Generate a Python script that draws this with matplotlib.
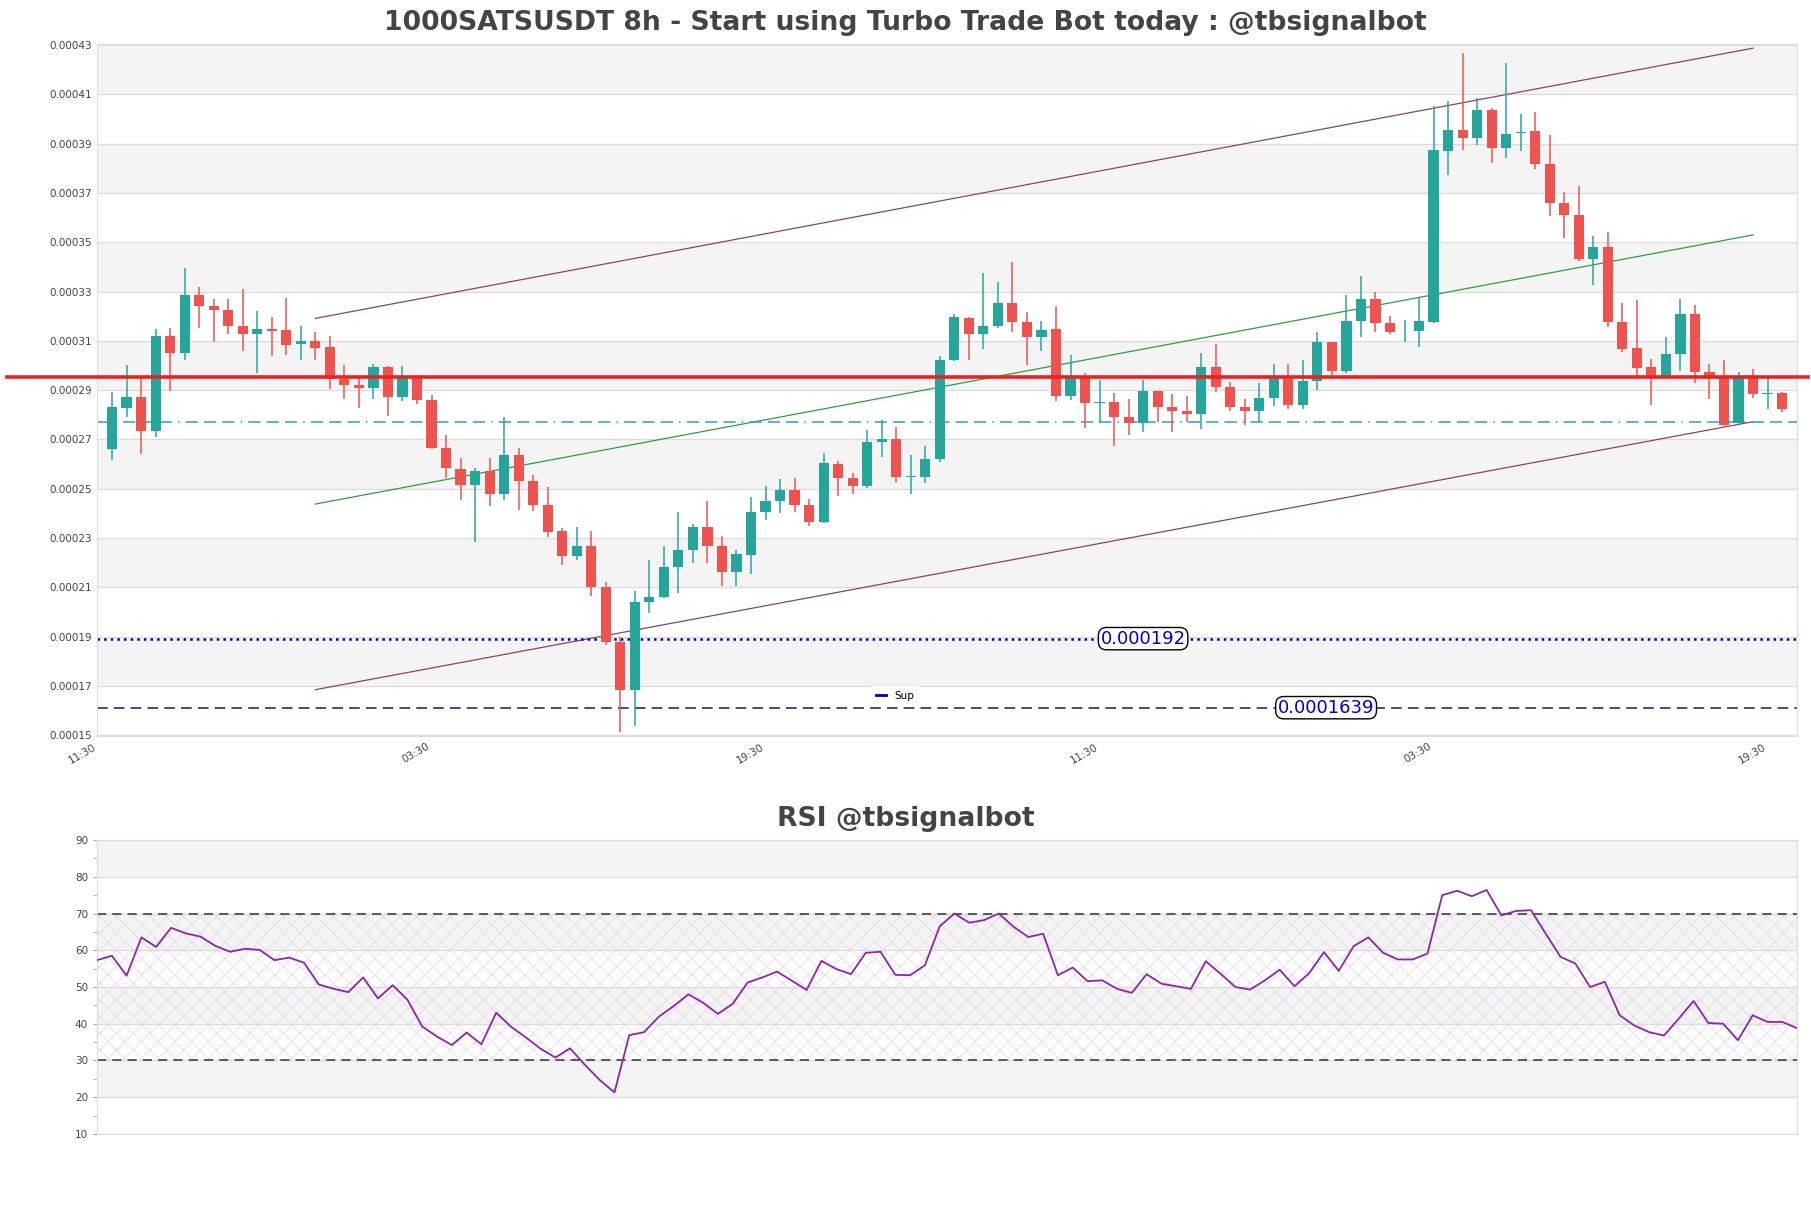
import numpy as np
import matplotlib
matplotlib.use("Agg")
import matplotlib.pyplot as plt
from matplotlib.lines import Line2D

# OHLC values in units of 1e-5 USDT, 8h candles
opens = [26.63, 28.28, 28.72, 27.34, 31.18, 30.51, 32.86, 32.43, 32.23, 31.61,
         31.26, 31.46, 31.42, 30.87, 31.00, 30.74, 29.47, 29.20, 29.10, 29.93,
         28.74, 29.49, 28.59, 26.67, 25.82, 25.14, 25.70, 24.77, 26.37, 25.33,
         24.36, 23.28, 22.27, 22.68, 21.01, 18.77, 16.85, 20.39, 20.61, 21.81,
         22.50, 23.43, 22.68, 21.62, 22.32, 24.04, 24.49, 24.96, 24.33, 23.65,
         26.02, 25.44, 25.11, 26.88, 27.00, 25.48, 25.48, 26.22, 30.23, 31.93,
         31.26, 31.61, 32.54, 31.76, 31.16, 31.47, 28.78, 29.52, 28.46, 28.52,
         27.90, 27.66, 28.96, 28.33, 28.14, 28.05, 29.95, 29.11, 28.33, 28.14,
         28.68, 29.49, 28.41, 29.36, 30.94, 29.77, 31.80, 32.69, 31.72, 31.38,
         31.38, 31.78, 38.71, 39.55, 39.23, 40.35, 38.84, 39.43, 39.52, 38.19,
         36.57, 36.10, 34.33, 34.80, 31.76, 30.70, 29.92, 29.55, 30.46, 32.08,
         29.73, 29.58, 27.68, 29.55, 28.84, 28.88]
highs = [28.93, 30.01, 29.54, 31.48, 31.52, 33.96, 33.18, 32.70, 32.70, 33.12,
         32.21, 31.97, 32.73, 31.59, 31.35, 31.18, 30.01, 29.49, 30.05, 29.97,
         29.97, 29.49, 28.80, 27.20, 26.23, 25.85, 26.26, 27.90, 26.65, 25.57,
         25.07, 23.40, 23.43, 23.30, 21.20, 19.00, 20.87, 22.12, 22.68, 24.04,
         23.56, 24.49, 23.10, 22.53, 24.68, 25.11, 25.39, 25.43, 24.60, 26.47,
         26.13, 25.63, 27.38, 27.77, 27.49, 26.37, 26.72, 30.38, 32.07, 31.97,
         33.74, 33.40, 34.18, 32.15, 31.82, 32.41, 30.42, 29.71, 29.40, 28.87,
         28.66, 29.42, 28.96, 28.83, 28.76, 30.51, 30.88, 29.34, 28.65, 29.30,
         30.05, 30.05, 30.23, 31.35, 30.94, 32.84, 33.62, 33.00, 32.00, 31.85,
         32.75, 40.54, 40.73, 42.68, 40.86, 40.44, 42.25, 40.21, 40.27, 39.36,
         37.03, 37.28, 35.27, 35.40, 32.52, 32.66, 30.27, 31.17, 32.69, 32.47,
         30.05, 30.23, 29.72, 29.86, 29.50, 28.91]
lows = [26.17, 27.90, 26.41, 27.10, 28.96, 30.23, 31.50, 30.96, 31.26, 30.57,
        29.71, 30.38, 30.42, 30.23, 30.23, 29.06, 28.63, 28.27, 28.65, 27.96,
        28.54, 28.44, 26.60, 25.42, 24.55, 22.83, 24.32, 24.55, 24.14, 24.08,
        23.06, 21.90, 22.09, 20.67, 18.68, 15.13, 15.38, 19.98, 20.56, 20.76,
        22.00, 22.00, 21.06, 21.06, 21.53, 23.75, 24.00, 24.04, 23.48, 23.61,
        24.70, 24.77, 25.05, 26.30, 25.26, 24.77, 25.24, 26.08, 30.20, 30.23,
        30.66, 31.50, 31.35, 30.01, 30.60, 28.56, 28.60, 27.47, 27.65, 26.75,
        27.16, 27.30, 27.72, 27.32, 27.72, 27.42, 28.91, 28.14, 27.60, 27.72,
        28.37, 28.22, 28.22, 28.99, 29.49, 29.68, 31.16, 31.35, 31.26, 30.94,
        30.74, 31.72, 37.74, 38.75, 38.96, 38.21, 38.43, 38.71, 37.97, 36.05,
        35.17, 34.24, 33.27, 31.54, 30.55, 29.49, 28.41, 29.55, 29.79, 29.29,
        28.65, 27.53, 27.57, 28.69, 28.22, 28.13]
closes = [28.31, 28.72, 27.34, 31.18, 30.51, 32.86, 32.43, 32.23, 31.61, 31.26,
          31.46, 31.39, 30.85, 31.00, 30.70, 29.47, 29.19, 29.10, 29.93, 28.74,
          29.49, 28.59, 26.67, 25.85, 25.14, 25.70, 24.77, 26.36, 25.33, 24.34,
          23.24, 22.27, 22.68, 21.01, 18.77, 16.85, 20.39, 20.61, 21.81, 22.50,
          23.43, 22.68, 21.62, 22.37, 24.04, 24.51, 24.96, 24.33, 23.65, 26.04,
          25.44, 25.11, 26.88, 27.00, 25.48, 25.52, 26.22, 30.23, 31.95, 31.26,
          31.61, 32.54, 31.76, 31.16, 31.44, 28.78, 29.52, 28.46, 28.52, 27.90,
          27.66, 28.96, 28.33, 28.14, 28.05, 29.95, 29.11, 28.33, 28.14, 28.68,
          29.49, 28.41, 29.36, 30.94, 29.77, 31.80, 32.69, 31.72, 31.35, 31.40,
          31.82, 38.75, 39.55, 39.23, 40.35, 38.84, 39.37, 39.47, 38.19, 36.57,
          36.10, 34.33, 34.80, 31.76, 30.66, 29.90, 29.55, 30.46, 32.08, 29.73,
          29.55, 27.59, 29.55, 28.84, 28.88, 28.22]

rsi = [57.3, 58.5, 53.1, 63.5, 60.9, 66.1, 64.6, 63.7, 61.2, 59.6,
       60.4, 60.1, 57.3, 58.0, 56.6, 50.7, 49.5, 48.6, 52.6, 46.9,
       50.5, 46.5, 39.2, 36.5, 34.2, 37.6, 34.4, 43.0, 39.2, 36.3,
       33.2, 30.8, 33.3, 28.8, 24.7, 21.3, 36.9, 37.7, 41.9, 44.8,
       48.0, 45.7, 42.7, 45.4, 51.2, 52.6, 54.2, 51.7, 49.2, 57.1,
       54.9, 53.5, 59.3, 59.6, 53.3, 53.2, 55.9, 66.5, 70.0, 67.5,
       68.2, 70.0, 66.4, 63.6, 64.5, 53.2, 55.3, 51.6, 51.8, 49.5,
       48.4, 53.5, 50.9, 50.2, 49.5, 57.0, 53.6, 50.0, 49.3, 51.8,
       54.7, 50.2, 53.8, 59.5, 54.4, 61.1, 63.5, 59.3, 57.5, 57.5,
       59.1, 75.0, 76.2, 74.7, 76.4, 69.5, 70.7, 70.9, 64.5, 58.2,
       56.4, 50.0, 51.4, 42.3, 39.5, 37.7, 36.8, 41.4, 46.2, 40.2,
       40.0, 35.5, 42.3, 40.5, 40.5, 38.8]

tick_pos = [-1, 22, 45, 68, 91, 114]
tick_labels = ["11:30", "03:30", "19:30", "11:30", "03:30", "19:30"]

# channel end points in 1e-5
chan_x = [14, 113]
chan_upper = [31.91, 42.87]
chan_lower = [16.85, 27.72]

resistance = 29.54
pivot = 27.72
sup_line = 18.92
sup_label = "0.000192"
low_line = 16.12
low_label = "0.0001639"

scale = 1e-5
o = np.array(opens) * scale
h = np.array(highs) * scale
l = np.array(lows) * scale
c = np.array(closes) * scale
x = np.arange(len(o))

GREEN = "#26a69a"
RED = "#ef5350"
BAND = "#f4f4f4"
GRID = "#dcdcdc"

fig = plt.figure(figsize=(18.11, 12.08), dpi=100)
ax = fig.add_axes([0.0536, 0.3907, 0.9387, 0.5727])
ax2 = fig.add_axes([0.0536, 0.0613, 0.9387, 0.2433])

# ---- price panel ----
yt = np.arange(15, 44, 2) * scale
for i in range(len(yt) - 1):
    if (len(yt) - 2 - i) % 2 == 0:
        ax.axhspan(yt[i], yt[i + 1], color=BAND, zorder=0, lw=0)
for v in yt:
    ax.axhline(v, color=GRID, lw=1, zorder=0.5)

cols = np.where(c >= o, GREEN, RED)
ax.vlines(x, l, h, colors=cols, lw=1.1, zorder=3)
body = np.maximum(np.abs(c - o), 0.03 * scale)
ax.bar(x, body, bottom=np.minimum(o, c), width=0.7, color=cols, zorder=3, lw=0)

cx = np.array(chan_x)
ax.plot(cx, np.array(chan_upper) * scale, color="#8c4558", lw=0.9, zorder=2)
ax.plot(cx, np.array(chan_lower) * scale, color="#8c4558", lw=0.9, zorder=2)
mid = (np.array(chan_upper) + np.array(chan_lower)) / 2 * scale
ax.plot(cx, mid, color="#2e9e40", lw=0.9, zorder=2)

ax.axhline(resistance * scale, xmin=-0.053, xmax=1.0065, color="#ee2020",
           lw=2.6, zorder=4, clip_on=False)
ax.axhline(pivot * scale, color="#2a9fd0", lw=1.1, ls=(0, (8, 4, 1, 4, 8, 4, 8, 4)), zorder=2)
ax.axhline(sup_line * scale, color="#0000b0", lw=1.8, ls=":", zorder=2)
ax.axhline(low_line * scale, color="#14148c", lw=1.1, ls=(0, (7, 4)), zorder=2)

box = dict(boxstyle="round,pad=0.12,rounding_size=0.45", fc="white", ec="black", lw=1)
ax.text(71, sup_line * scale, sup_label, color="#0000cc", fontsize=13,
        ha="center", va="center", bbox=box, zorder=5)
ax.text(83.6, low_line * scale, low_label, color="#0000cc", fontsize=13,
        ha="center", va="center", bbox=box, zorder=5)

leg = ax.legend(handles=[Line2D([0], [0], color="#0000b0", lw=2)], labels=["Sup"],
                loc="lower left", bbox_to_anchor=(0.452, 0.036), fontsize=7.5,
                frameon=True, handlelength=1.0, borderpad=0.5)
leg.get_frame().set_edgecolor("none")
leg.get_frame().set_facecolor("white")
leg.get_frame().set_alpha(1)

ax.set_xlim(-1.03, 116.03)
ax.set_ylim(0.0001497, 0.0004303)
ax.set_yticks(yt)
ax.set_yticklabels(["%.5f" % v for v in yt])
ax.set_xticks(tick_pos)
ax.set_xticklabels(tick_labels, rotation=30, ha="right")
ax.tick_params(axis="both", length=0, labelsize=7.5, labelcolor="#444444", pad=4)
for s in ax.spines.values():
    s.set_color(GRID)
fig.text(0.5, 0.981, "1000SATSUSDT 8h - Start using Turbo Trade Bot today : @tbsignalbot",
         fontsize=19.2, fontweight="bold", color="#444444", ha="center", va="center")

# ---- RSI panel ----
for lo_ in range(10, 90, 10):
    if (lo_ // 10) % 2 == 0:
        ax2.axhspan(lo_, lo_ + 10, color=BAND, zorder=0, lw=0)
for v in range(10, 91, 10):
    ax2.axhline(v, color=GRID, lw=1, zorder=0.5)
plt.rcParams["hatch.linewidth"] = 0.5
ax2.fill_between([0, len(rsi) - 1], 30, 70, facecolor="none",
                 edgecolor="#e4d4e8", hatch="xx", lw=0, zorder=1)
ax2.axhline(70, color="#333333", lw=1.1, ls=(0, (6, 4)), zorder=2)
ax2.axhline(30, color="#333333", lw=1.1, ls=(0, (6, 4)), zorder=2)
ax2.plot(np.arange(len(rsi)), rsi, color="#8e24aa", lw=1.3, zorder=3)
ax2.set_xlim(0, len(rsi) - 1)
ax2.set_ylim(10, 90)
ax2.set_yticks(range(10, 91, 10))
ax2.set_yticks(range(15, 90, 10), minor=True)
ax2.set_xticks([])
ax2.tick_params(axis="y", which="both", length=3, color="#aaaaaa",
                labelsize=7.5, labelcolor="#444444")
for s in ax2.spines.values():
    s.set_color(GRID)
fig.text(0.5, 0.322, "RSI @tbsignalbot", fontsize=19.2, fontweight="bold",
         color="#444444", ha="center", va="center")

fig.savefig("out.png", dpi=100)
